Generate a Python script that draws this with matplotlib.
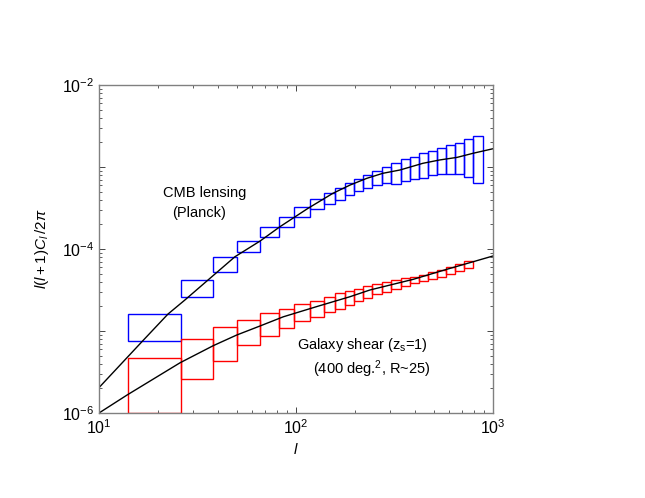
import numpy as np
import matplotlib
matplotlib.use("Agg")
import matplotlib.pyplot as plt

plt.rcParams['font.family'] = ['Liberation Sans', 'DejaVu Sans']
plt.rcParams['mathtext.fontset'] = 'custom'
plt.rcParams['mathtext.rm'] = 'Liberation Sans'
plt.rcParams['mathtext.it'] = 'Liberation Sans:italic'

# multipole bin edges
l_edges = [14, 26, 38, 50, 66, 82, 98, 118, 138, 158, 178, 198, 220, 244,
           272, 302, 340, 380, 422, 470, 521, 576, 643, 713, 794, 889]

# CMB lensing error boxes (Planck)
cmb_hi = [1.61e-5, 4.19e-5, 7.92e-5, 1.24e-4, 1.84e-4, 2.48e-4, 3.23e-4, 4.04e-4,
          4.78e-4, 5.55e-4, 6.44e-4, 7.20e-4, 7.92e-4, 8.87e-4, 9.91e-4, 1.11e-3,
          1.24e-3, 1.34e-3, 1.47e-3, 1.58e-3, 1.71e-3, 1.87e-3, 1.98e-3, 2.18e-3, 2.39e-3]
cmb_lo = [7.62e-6, 2.58e-5, 5.25e-5, 9.12e-5, 1.39e-4, 1.87e-4, 2.44e-4, 3.05e-4,
          3.54e-4, 3.96e-4, 4.52e-4, 5.06e-4, 5.55e-4, 5.98e-4, 6.33e-4, 6.21e-4,
          6.81e-4, 7.20e-4, 7.34e-4, 7.92e-4, 8.22e-4, 8.22e-4, 8.22e-4, 7.62e-4, 6.44e-4]

# galaxy shear error boxes
shear_hi = [4.72e-6, 8.05e-6, 1.11e-5, 1.36e-5, 1.66e-5, 1.87e-5, 2.13e-5, 2.34e-5,
            2.58e-5, 2.88e-5, 3.05e-5, 3.28e-5, 3.54e-5, 3.74e-5, 3.96e-5, 4.19e-5,
            4.43e-5, 4.59e-5, 4.86e-5, 5.25e-5, 5.55e-5, 6.08e-5, 6.56e-5, 7.08e-5]
shear_lo = [1.0e-6, 2.58e-6, 4.27e-6, 6.75e-6, 8.69e-6, 1.09e-5, 1.31e-5, 1.49e-5,
            1.71e-5, 1.87e-5, 2.09e-5, 2.34e-5, 2.56e-5, 2.79e-5, 3.03e-5, 3.25e-5,
            3.49e-5, 3.80e-5, 4.07e-5, 4.35e-5, 4.52e-5, 4.95e-5, 5.44e-5, 5.86e-5]

# model curves
cmb_l = [10, 16.7, 22.4, 27.3, 49.0, 65.7, 82.9, 115, 154, 188, 229, 276, 337,
         441, 538, 657, 792, 1000]
cmb_cl = [2.04e-6, 7.62e-6, 1.61e-5, 2.39e-5, 8.05e-5, 1.25e-4, 1.87e-4, 3.13e-4,
          4.78e-4, 6.02e-4, 7.28e-4, 8.38e-4, 9.19e-4, 1.11e-3, 1.22e-3, 1.31e-3,
          1.47e-3, 1.67e-3]
shear_l = [10, 13.9, 25.8, 38.0, 50.0, 65.6, 86.2, 127, 188, 237, 394, 582, 794, 1000]
shear_cl = [1.0e-6, 1.66e-6, 4.10e-6, 6.62e-6, 8.93e-6, 1.15e-5, 1.49e-5, 1.98e-5,
            2.62e-5, 3.16e-5, 4.27e-5, 5.65e-5, 7.00e-5, 8.22e-5]

fig = plt.figure(figsize=(6.45, 4.98), dpi=100)
ax = fig.add_axes([99 / 645, 85 / 498, 394 / 645, 328 / 498])
ax.set_xscale('log')
ax.set_yscale('log')

edges = np.array(l_edges, dtype=float)

def boxes(lo, hi, color):
    n = len(lo)
    left = edges[:n]
    width = edges[1:n + 1] - left
    lo = np.array(lo)
    hi = np.array(hi)
    ax.bar(left, hi - lo, width=width, bottom=lo, align='edge',
           fill=False, edgecolor=color, linewidth=1.0)

boxes(cmb_lo, cmb_hi, '#0000ff')
boxes(shear_lo, shear_hi, '#ff0000')

ax.plot(cmb_l, cmb_cl, color='black', lw=1.0)
ax.plot(shear_l, shear_cl, color='black', lw=1.0)

ax.set_xlim(10, 1000)
ax.set_ylim(1e-6, 1e-2)

ax.set_xticks([10, 100, 1000], [r'$10^{1}$', r'$10^{2}$', r'$10^{3}$'])
ax.set_yticks([1e-6, 1e-5, 1e-4, 1e-3, 1e-2],
              [r'$10^{-6}$', '', r'$10^{-4}$', '', r'$10^{-2}$'])
ax.tick_params(which='both', direction='in', top=True, right=True,
               color='#444444', labelsize=11.5)
ax.tick_params(which='major', length=4, width=0.7)
ax.tick_params(which='minor', length=2, width=0.6)
for s in ax.spines.values():
    s.set_color('#808080')
    s.set_linewidth(1.0)

ax.set_xlabel(r'$l$', fontsize=11, labelpad=4)
ax.set_ylabel(r'$\mathit{l(l+1)C_l\,/2\pi}$', fontsize=11, labelpad=8)

ax.text(0.162, 0.671, 'CMB lensing', transform=ax.transAxes, fontsize=10.5, va='center')
ax.text(0.185, 0.610, '(Planck)', transform=ax.transAxes, fontsize=10.5, va='center')
ax.text(0.503, 0.207, 'Galaxy shear (z$_\\mathrm{s}$=1)', transform=ax.transAxes,
        fontsize=10.5, va='center')
ax.text(0.542, 0.133, '(400 deg.$^2$, R~25)', transform=ax.transAxes,
        fontsize=10.5, va='center')

fig.savefig('out.png', dpi=100)
